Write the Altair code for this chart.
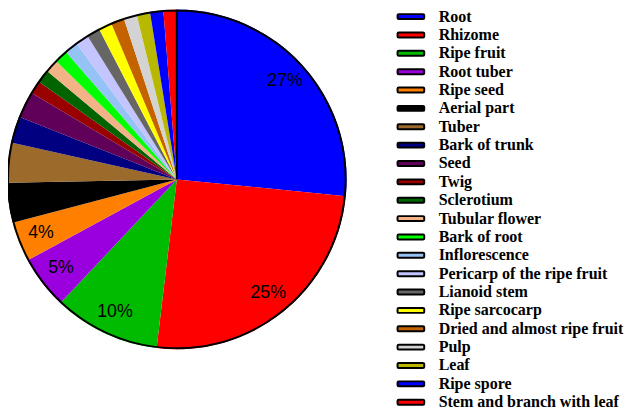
import altair as alt
import pandas as pd

categories = ["Root", "Rhizome", "Ripe fruit", "Root tuber", "Ripe seed", "Aerial part",
              "Tuber", "Bark of trunk", "Seed", "Twig", "Sclerotium", "Tubular flower",
              "Bark of root", "Inflorescence", "Pericarp of the ripe fruit", "Lianoid stem",
              "Ripe sarcocarp", "Dried and almost ripe fruit", "Pulp", "Leaf", "Ripe spore",
              "Stem and branch with leaf"]
counts = [21, 20, 8, 4, 3, 3, 3, 2, 2, 1, 1, 1, 1, 1, 1, 1, 1, 1, 1, 1, 1, 1]
colors = ["#0000FF", "#FF0000", "#00BB00", "#9900DD", "#FF8000", "#000000",
          "#9C6A2A", "#000080", "#600058", "#990000", "#006400", "#F2B486",
          "#00FF00", "#96C3F5", "#C4C4FF", "#666666", "#FFFF00", "#C46200",
          "#D3D3D3", "#B8B800", "#0000FF", "#FF0000"]
labeled = ["Root", "Rhizome", "Ripe fruit", "Root tuber", "Ripe seed"]

total = sum(counts)
df = pd.DataFrame({
    "category": categories,
    "value": counts,
    "idx": list(range(len(categories))),
})
df["label"] = [f"{round(v / total * 100)}%" if c in labeled else ""
               for c, v in zip(categories, counts)]

R = 172
CX = 171
CY = 171
sym_path = "M-2.45,-0.5 H2.45 Q2.7,-0.5 2.7,-0.3 V0.3 Q2.7,0.5 2.45,0.5 H-2.45 Q-2.7,0.5 -2.7,0.3 V-0.3 Q-2.7,-0.5 -2.45,-0.5 Z"

base = alt.Chart(df)

slices = base.mark_arc(radius=R).encode(
    x=alt.value(CX),
    y=alt.value(CY),
    theta=alt.Theta("value:Q", stack=True),
    order=alt.Order("idx:Q"),
    color=alt.Color(
        "category:N",
        scale=alt.Scale(domain=categories, range=colors),
        legend=alt.Legend(
            title=None,
            orient="none",
            legendX=400,
            legendY=-2,
            padding=0,
            symbolType=sym_path,
            symbolSize=100,
            symbolStrokeColor="black",
            symbolStrokeWidth=2,
            symbolOpacity=1,
            labelFont="Liberation Serif",
            labelFontWeight="bold",
            labelFontSize=16.2,
            labelColor="black",
            labelOffset=20,
            labelLimit=0,
            rowPadding=1.6,
        ),
    ),
)

texts = base.mark_text(radius=148, font="Liberation Sans", fontSize=18, color="black").encode(
    x=alt.value(CX),
    y=alt.value(CY),
    theta=alt.Theta("value:Q", stack=True),
    order=alt.Order("idx:Q"),
    text="label:N",
)

outline_df = pd.DataFrame({"k": [0]})
outline = alt.Chart(outline_df).mark_arc(
    radius=R - 1, theta=0, theta2=6.28318, filled=False, stroke="black", strokeWidth=2
).encode(x=alt.value(CX), y=alt.value(CY))

chart = alt.layer(slices, texts, outline).resolve_scale(theta="independent").properties(
    width=626, height=404,
    padding={"left": 0, "top": 0, "right": 0, "bottom": 0},
    autosize=alt.AutoSizeParams(type="none"),
).configure_view(stroke=None)

chart.save("out.html", embed_options={"renderer": "svg", "actions": False})
